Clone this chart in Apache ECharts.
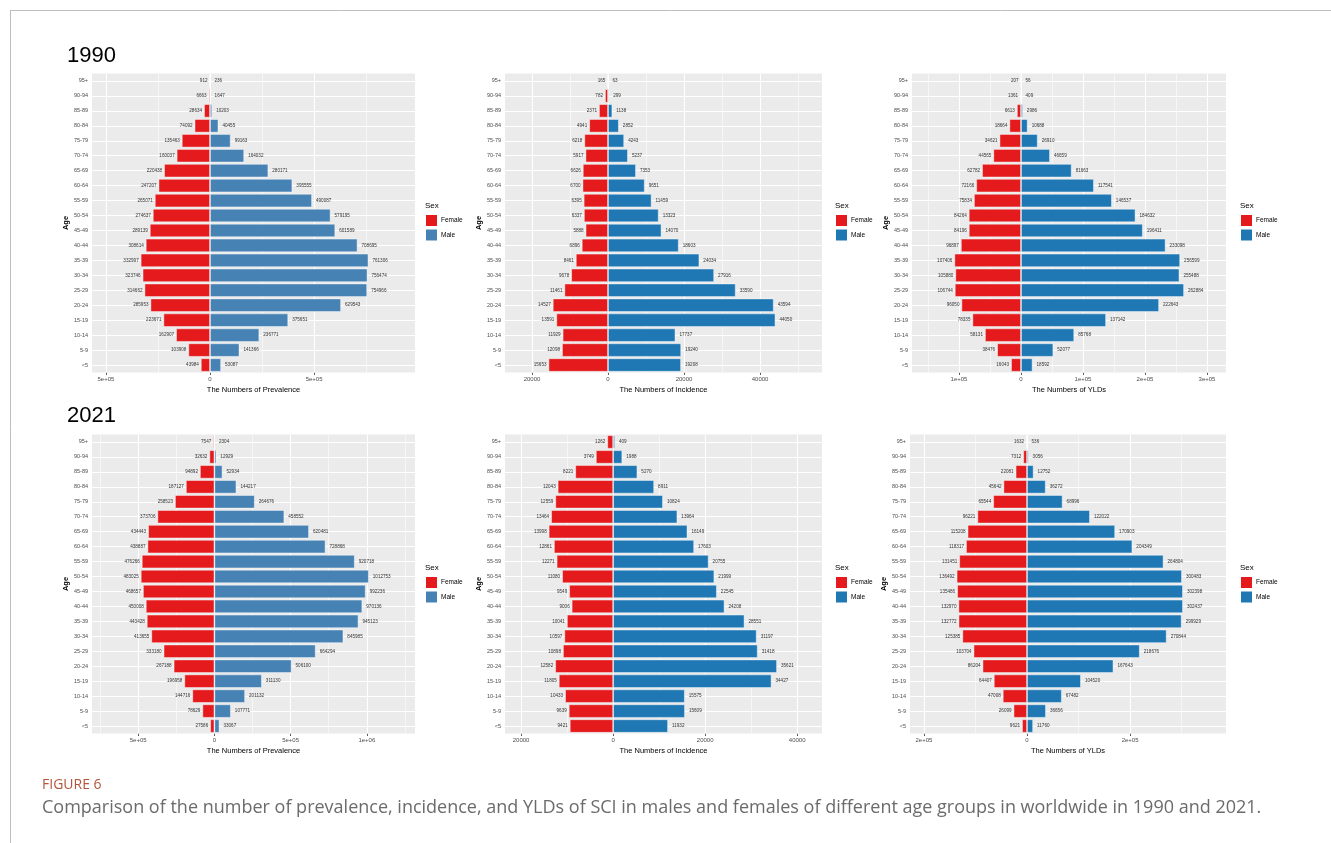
<!DOCTYPE html>
<html>
<head>
<meta charset="utf-8">
<script src="https://cdn.jsdelivr.net/npm/echarts@6/dist/echarts.min.js"></script>
<style>
  html, body { margin: 0; padding: 0; background: #ffffff; }
  #chart { width: 1331px; height: 843px; }
</style>
</head>
<body>
<div id="chart"></div>
<script>
// Age groups, bottom of each pyramid first
const ageGroups = ['<5', '5-9', '10-14', '15-19', '20-24', '25-29', '30-34', '35-39', '40-44', '45-49',
  '50-54', '55-59', '60-64', '65-69', '70-74', '75-79', '80-84', '85-89', '90-94', '95+'];

// 1990
const female1990Prevalence = [43984, 103908, 162907, 223671, 285953, 314662, 323746, 332997, 308614, 289139,
  274637, 265071, 247207, 220438, 160037, 135463, 74092, 28634, 6663, 912];
const male1990Prevalence = [53087, 141366, 236771, 375651, 629543, 754966, 756474, 761306, 708695, 601589,
  579195, 490087, 395555, 280171, 164032, 99163, 40455, 10203, 1647, 236];
const female1990Incidence = [15653, 12098, 11929, 13591, 14527, 11461, 9678, 8461, 6896, 5888,
  6337, 6395, 6700, 6626, 5917, 6218, 4941, 2371, 782, 165];
const male1990Incidence = [19208, 19240, 17737, 44050, 43594, 33590, 27916, 24034, 18603, 14070,
  13323, 11459, 9651, 7353, 5237, 4243, 2852, 1138, 299, 63];
const female1990YLDs = [16043, 38476, 58131, 78335, 96050, 106744, 105880, 107406, 96897, 84196,
  84264, 75834, 72166, 62782, 44565, 34621, 18664, 6613, 1361, 207];
const male1990YLDs = [18592, 52077, 85768, 137142, 222643, 262884, 255488, 256599, 233098, 196411,
  184632, 146537, 117541, 81663, 46659, 26910, 10688, 2986, 409, 56];

// 2021
const female2021Prevalence = [27586, 78629, 144716, 196958, 267188, 333180, 413655, 443428, 450008, 468657,
  483025, 476266, 438887, 434443, 373706, 258523, 187127, 94892, 32632, 7547];
const male2021Prevalence = [33067, 107771, 201132, 311130, 506100, 664294, 845985, 945123, 970136, 992236,
  1012753, 920718, 728868, 620481, 458552, 264676, 144217, 52934, 12929, 2304];
const female2021Incidence = [9421, 9639, 10433, 11805, 12582, 10898, 10597, 10041, 9006, 9549,
  11080, 12271, 12861, 13998, 13464, 12559, 12043, 8221, 3749, 1262];
const male2021Incidence = [11932, 15609, 15575, 34427, 35621, 31418, 31197, 28551, 24208, 22545,
  21999, 20755, 17603, 16149, 13964, 10824, 8911, 5270, 1988, 409];
const female2021YLDs = [9621, 26099, 47008, 64407, 86204, 103704, 125385, 132772, 132970, 135486,
  136492, 131451, 118317, 115208, 96221, 65544, 45642, 22081, 7312, 1632];
const male2021YLDs = [11760, 36656, 67482, 104520, 167643, 218676, 270844, 299929, 302437, 302398,
  300483, 264804, 204349, 170903, 122022, 68996, 36272, 12752, 3056, 536];

// x-axis ticks (female side is negative) and their printed labels
const prevalence1990Ticks = [-500000, 0, 500000];
const prevalence1990TickLabels = ['5e+05', '0', '5e+05'];
const incidence1990Ticks = [-20000, 0, 20000, 40000];
const incidence1990TickLabels = ['20000', '0', '20000', '40000'];
const ylds1990Ticks = [-100000, 0, 100000, 200000, 300000];
const ylds1990TickLabels = ['1e+05', '0', '1e+05', '2e+05', '3e+05'];
const prevalence2021Ticks = [-500000, 0, 500000, 1000000];
const prevalence2021TickLabels = ['5e+05', '0', '5e+05', '1e+06'];
const incidence2021Ticks = [-20000, 0, 20000, 40000];
const incidence2021TickLabels = ['20000', '0', '20000', '40000'];
const ylds2021Ticks = [-200000, 0, 200000];
const ylds2021TickLabels = ['2e+05', '0', '2e+05'];

const sexNames = ['Female', 'Male'];

const FEMALE_RED = '#E41A1C';
const STEEL_BLUE = '#4682B4';
const DARK_BLUE = '#1F78B4';
const PANEL_BG = '#EBEBEB';
const FONT = '"Liberation Sans", Arial, sans-serif';

const panels = [
  { female: female1990Prevalence, male: male1990Prevalence, maleColor: STEEL_BLUE, measure: 'Prevalence',
    box: [92, 73.5, 323, 299], range: [-567000, 985000], ticks: prevalence1990Ticks, tickLabels: prevalence1990TickLabels, legend: [425, 207] },
  { female: female1990Incidence, male: male1990Incidence, maleColor: DARK_BLUE, measure: 'Incidence',
    box: [505, 73.5, 317, 299], range: [-27100, 56300], ticks: incidence1990Ticks, tickLabels: incidence1990TickLabels, legend: [835, 207] },
  { female: female1990YLDs, male: male1990YLDs, maleColor: DARK_BLUE, measure: 'YLDs',
    box: [912, 73.5, 314, 299], range: [-175800, 330600], ticks: ylds1990Ticks, tickLabels: ylds1990TickLabels, legend: [1240, 207] },
  { female: female2021Prevalence, male: male2021Prevalence, maleColor: STEEL_BLUE, measure: 'Prevalence',
    box: [92, 434.5, 323, 299], range: [-803000, 1316000], ticks: prevalence2021Ticks, tickLabels: prevalence2021TickLabels, legend: [425, 569] },
  { female: female2021Incidence, male: male2021Incidence, maleColor: DARK_BLUE, measure: 'Incidence',
    box: [505, 434.5, 317, 299], range: [-23500, 45400], ticks: incidence2021Ticks, tickLabels: incidence2021TickLabels, legend: [835, 569] },
  { female: female2021YLDs, male: male2021YLDs, maleColor: DARK_BLUE, measure: 'YLDs',
    box: [910, 434.5, 316, 299], range: [-227000, 386000], ticks: ylds2021Ticks, tickLabels: ylds2021TickLabels, legend: [1240, 569] }
];

// minor grid lines sit halfway between the labelled ones
function minorLines(ticks, range) {
  const half = (ticks[1] - ticks[0]) / 2;
  const out = [];
  for (let v = Math.ceil(range[0] / half) * half; v <= range[1]; v += half) {
    if (!ticks.includes(v)) out.push(v);
  }
  return out;
}

const grids = [], xAxes = [], yAxes = [], series = [], graphics = [];

panels.forEach((p, i) => {
  const [left, top, width, height] = p.box;
  grids.push({ left, top, width, height, show: true, backgroundColor: PANEL_BG, borderWidth: 0, containLabel: false });

  xAxes.push({
    type: 'value', gridIndex: i, min: p.range[0], max: p.range[1],
    name: 'The Numbers of ' + p.measure, nameLocation: 'middle', nameGap: 13,
    nameTextStyle: { fontSize: 7.5, color: '#000', fontFamily: FONT },
    axisLine: { show: false },
    axisTick: { show: true, length: 2.5, customValues: p.ticks, lineStyle: { color: '#333', width: 0.8 } },
    axisLabel: {
      customValues: p.ticks, fontSize: 6, color: '#4D4D4D', margin: 4, fontFamily: FONT,
      formatter: v => { const k = p.ticks.findIndex(t => Math.abs(t - v) < 1e-6); return k >= 0 ? p.tickLabels[k] : ''; }
    },
    splitLine: { show: false }
  });

  yAxes.push({
    type: 'category', gridIndex: i, data: ageGroups,
    name: 'Age', nameLocation: 'middle', nameRotate: 90, nameGap: 19,
    nameTextStyle: { fontSize: 7.5, color: '#000', fontFamily: FONT, fontWeight: 'bold' },
    axisLine: { show: false },
    axisTick: { show: true, alignWithLabel: true, length: 2.5, lineStyle: { color: '#333', width: 0.8 } },
    axisLabel: { fontSize: 5.5, color: '#4D4D4D', margin: 4, fontFamily: FONT },
    splitLine: { show: false }
  });

  // panel grid lines (white, ggplot style)
  const solid = (w) => ({ type: 'solid', width: w, color: '#ffffff', opacity: 1 });
  const vMajor = p.ticks.filter(v => v >= p.range[0] && v <= p.range[1]).map(v => ({ xAxis: v, lineStyle: solid(1.1) }));
  const vMinor = minorLines(p.ticks, p.range).map(v => ({ xAxis: v, lineStyle: solid(0.55) }));
  const hMajor = ageGroups.map((a, k) => ({ yAxis: k, lineStyle: solid(1.1) }));
  series.push({
    type: 'line', xAxisIndex: i, yAxisIndex: i, data: [], silent: true, z: 1,
    markLine: {
      silent: true, symbol: 'none', z: 1, animation: false,
      lineStyle: { type: 'solid', color: '#ffffff' },
      label: { show: false }, emphasis: { disabled: true },
      data: vMinor.concat(vMajor, hMajor)
    }
  });

  const labelCommon = { show: true, fontSize: 4.6, color: '#333', fontFamily: FONT };
  series.push({
    name: sexNames[0], type: 'bar', xAxisIndex: i, yAxisIndex: i, z: 2,
    data: p.female.map(v => -v),
    barGap: '-100%', barCategoryGap: '10%',
    itemStyle: { color: FEMALE_RED, borderColor: 'rgba(255,255,255,0.55)', borderWidth: 0.8 },
    label: Object.assign({ position: 'left', distance: 2, formatter: d => String(Math.abs(d.value)) }, labelCommon),
    animation: false
  });
  series.push({
    name: sexNames[1], type: 'bar', xAxisIndex: i, yAxisIndex: i, z: 2,
    data: p.male.slice(),
    barGap: '-100%', barCategoryGap: '10%',
    itemStyle: { color: p.maleColor, borderColor: 'rgba(255,255,255,0.55)', borderWidth: 0.8 },
    label: Object.assign({ position: 'right', distance: 4, formatter: d => String(d.value) }, labelCommon),
    animation: false
  });

  // legend: "Sex" with two keys
  const [lx, ly] = p.legend;
  graphics.push({ type: 'text', left: lx, top: ly - 5, style: { text: 'Sex', fontSize: 8, fill: '#000', fontFamily: FONT } });
  [[FEMALE_RED, sexNames[0]], [p.maleColor, sexNames[1]]].forEach(([c, t], k) => {
    const y0 = ly + 8 + k * 14.5;
    graphics.push({ type: 'rect', shape: { x: lx + 1, y: y0, width: 11, height: 11 }, style: { fill: c } });
    graphics.push({ type: 'text', x: lx + 16, y: y0 + 5.5, style: { text: t, fontSize: 6.5, fill: '#000', fontFamily: FONT, textVerticalAlign: 'middle' } });
  });
});

// year headings, frame and caption
graphics.push(
  { type: 'text', x: 67, y: 45, style: { text: '1990', fontSize: 22, fill: '#000', fontFamily: FONT } },
  { type: 'text', x: 67, y: 405, style: { text: '2021', fontSize: 22, fill: '#000', fontFamily: FONT } },
  { type: 'line', shape: { x1: 10, y1: 10.5, x2: 1331, y2: 10.5 }, style: { stroke: '#bdbdbd', lineWidth: 1 } },
  { type: 'line', shape: { x1: 10.5, y1: 10, x2: 10.5, y2: 843 }, style: { stroke: '#bdbdbd', lineWidth: 1 } },
  { type: 'text', x: 42, y: 778, style: { text: 'FIGURE 6', fontSize: 14, fill: '#b2553a', fontFamily: '"Open Sans", ' + FONT } },
  { type: 'text', x: 42, y: 799, style: { text: 'Comparison of the number of prevalence, incidence, and YLDs of SCI in males and females of different age groups in worldwide in 1990 and 2021.', fontSize: 18, fill: '#6b6b6b', fontFamily: '"Open Sans", ' + FONT } }
);

const chart = echarts.init(document.getElementById('chart'));
chart.setOption({
  animation: false,
  backgroundColor: '#ffffff',
  textStyle: { fontFamily: FONT },
  grid: grids,
  xAxis: xAxes,
  yAxis: yAxes,
  series: series,
  graphic: { elements: graphics }
});
</script>
</body>
</html>
